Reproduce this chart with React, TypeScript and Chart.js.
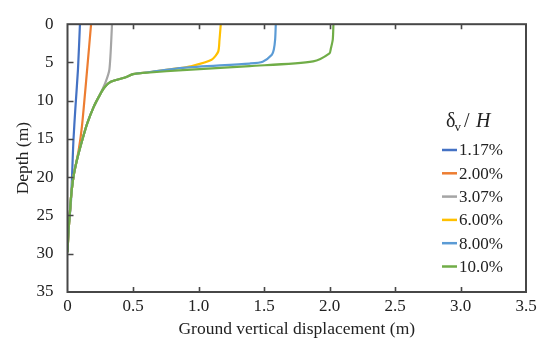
import React, { useEffect, useRef } from "react";
import { Chart, registerables } from "chart.js";

Chart.register(...registerables);

// ---- data (depth in m, displacement in m) ----
const seriesLabels = ["1.17%", "2.00%", "3.07%", "6.00%", "8.00%", "10.0%"];
const seriesColors = ["#4472C4", "#ED7D31", "#A5A5A5", "#FFC000", "#5B9BD5", "#70AD47"];

// shared lower part of the curves (below the knee)
const tailDisp = [0.5, 0.45, 0.33, 0.28, 0.245, 0.2, 0.15, 0.115, 0.08, 0.05, 0.03, 0.018, 0.008, 0];
const tailDepth = [6.52, 6.9, 7.53, 8.3, 9.3, 10.8, 13, 15, 17.2, 19.5, 22, 24.7, 27, 29.8];

const s117Disp = [0.095, 0.08, 0.06, 0.045, 0.025, 0];
const s117Depth = [0, 5.9, 11, 15.3, 23.6, 27.5];

const s200Disp = [0.18, 0.15, 0.11, 0.085, 0.05, 0.03, 0.018, 0.008, 0];
const s200Depth = [0, 5.9, 13.4, 16.5, 19.5, 22, 24.7, 27, 29.8];

const s307Disp = [0.34, 0.32, 0.29, 0.245, 0.2, 0.15, 0.115, 0.08, 0.05, 0.03, 0.018, 0.008, 0];
const s307Depth = [0, 5.9, 7.6, 9.3, 10.8, 13, 15, 17.2, 19.5, 22, 24.7, 27, 29.8];

const s600HeadDisp = [1.17, 1.16, 1.15, 1.1, 0.94, 0.85, 0.63];
const s600HeadDepth = [0, 2.1, 3.6, 4.64, 5.5, 5.75, 6.25];

const s800HeadDisp = [1.59, 1.585, 1.575, 1.56, 1.49, 1.39, 0.88, 0.63];
const s800HeadDepth = [0, 2, 3.3, 4.0, 4.9, 5.14, 5.7, 6.25];

const s1000HeadDisp = [2.03, 2.025, 2.01, 2.0, 1.875, 1.39, 0.88, 0.63];
const s1000HeadDepth = [0, 2, 3.2, 3.8, 4.86, 5.48, 6.0, 6.31];

const xTicksMax = 3.5;
const yTicksMax = 35;

const toPts = (xs: number[], ys: number[]) => xs.map((x, i) => ({ x, y: ys[i] }));

const seriesPoints = [
  toPts(s117Disp, s117Depth),
  toPts(s200Disp, s200Depth),
  toPts(s307Disp, s307Depth),
  toPts(s600HeadDisp.concat(tailDisp), s600HeadDepth.concat(tailDepth)),
  toPts(s800HeadDisp.concat(tailDisp), s800HeadDepth.concat(tailDepth)),
  toPts(s1000HeadDisp.concat(tailDisp), s1000HeadDepth.concat(tailDepth)),
];

const FONT = "'Liberation Serif', 'Times New Roman', serif";
const AXIS_COLOR = "#474747";
const TEXT_COLOR = "#222";

const framePlugin = {
  id: "frameAndLegend",
  afterDraw(chart: any) {
    const { ctx, chartArea } = chart;
    const { left, right, top, bottom } = chartArea;
    const xs = chart.scales.x;
    const ys = chart.scales.y;
    ctx.save();
    // inward ticks
    ctx.strokeStyle = AXIS_COLOR;
    ctx.lineWidth = 1.6;
    ctx.beginPath();
    xs.ticks.forEach((t: any) => {
      const px = Math.round(xs.getPixelForValue(t.value)) + 0.5;
      if (px <= left + 1 || px >= right - 1) return;
      ctx.moveTo(px, bottom);
      ctx.lineTo(px, bottom - 5);
      ctx.moveTo(px, top);
      ctx.lineTo(px, top + 5);
    });
    ys.ticks.forEach((t: any) => {
      const py = Math.round(ys.getPixelForValue(t.value)) + 0.5;
      if (py <= top + 1 || py >= bottom - 1) return;
      ctx.moveTo(left, py);
      ctx.lineTo(left + 6, py);
    });
    ctx.stroke();
    // frame
    ctx.lineWidth = 2;
    ctx.strokeRect(left, top, right - left, bottom - top);

    // legend title: δv / H
    ctx.fillStyle = TEXT_COLOR;
    ctx.textBaseline = "alphabetic";
    ctx.textAlign = "left";
    const tx = 446;
    const ty = 127;
    ctx.font = `20px ${FONT}`;
    ctx.fillText("δ", tx, ty);
    const wd = ctx.measureText("δ").width;
    ctx.font = `13px ${FONT}`;
    ctx.fillText("v", tx + wd - 1, ty + 4);
    ctx.font = `20px ${FONT}`;
    ctx.fillText("/", 464, ty);
    ctx.font = `italic 20px ${FONT}`;
    ctx.fillText("H", 476, ty);

    // legend items
    ctx.font = `17px ${FONT}`;
    ctx.textBaseline = "middle";
    seriesLabels.forEach((lab, i) => {
      const y = 150 + i * 23.3;
      ctx.strokeStyle = seriesColors[i];
      ctx.lineWidth = 2.5;
      ctx.beginPath();
      ctx.moveTo(442, y);
      ctx.lineTo(457, y);
      ctx.stroke();
      ctx.fillStyle = TEXT_COLOR;
      ctx.fillText(lab, 459, y + 1);
    });
    ctx.restore();
  },
};

export default function App() {
  const ref = useRef<HTMLCanvasElement | null>(null);
  useEffect(() => {
    if (!ref.current) return;
    const chart = new Chart(ref.current, {
      type: "scatter",
      data: {
        datasets: seriesPoints.map((pts, i) => ({
          label: seriesLabels[i],
          data: pts,
          showLine: true,
          borderColor: seriesColors[i],
          backgroundColor: seriesColors[i],
          borderWidth: 2.2,
          pointRadius: 0,
          tension: 0.25,
          order: seriesPoints.length - i,
        })),
      },
      options: {
        animation: false,
        responsive: true,
        maintainAspectRatio: false,
        layout: { padding: { top: 13, right: 16, left: 0, bottom: 0 } },
        plugins: { legend: { display: false }, tooltip: { enabled: false } },
        scales: {
          x: {
            type: "linear",
            position: "bottom",
            min: 0,
            max: xTicksMax,
            ticks: {
              stepSize: 0.5,
              color: TEXT_COLOR,
              font: { family: FONT, size: 17 },
              padding: 4,
              maxRotation: 0,
            },
            grid: { display: false, drawTicks: false },
            border: { display: false },
            title: {
              display: true,
              text: "Ground vertical displacement (m)",
              color: TEXT_COLOR,
              font: { family: FONT, size: 17.5 },
              padding: { top: 0, bottom: 2 },
            },
            afterFit: (s: any) => {
              s.height = 50;
            },
          },
          y: {
            type: "linear",
            reverse: true,
            min: 0,
            max: yTicksMax,
            ticks: {
              stepSize: 5,
              color: TEXT_COLOR,
              font: { family: FONT, size: 17 },
              padding: 14,
            },
            grid: { display: false, drawTicks: false },
            border: { display: false },
            title: {
              display: true,
              text: "Depth (m)",
              color: TEXT_COLOR,
              font: { family: FONT, size: 17.5 },
              padding: { top: 12.5, bottom: 0 },
            },
            afterFit: (s: any) => {
              s.width = 67.5;
            },
          },
        },
      },
      plugins: [framePlugin],
    } as any);
    return () => chart.destroy();
  }, []);
  return (
    <div style={{ position: "absolute", left: 0, top: 0, width: 542, height: 342, background: "#fff" }}>
      <canvas ref={ref} />
    </div>
  );
}
